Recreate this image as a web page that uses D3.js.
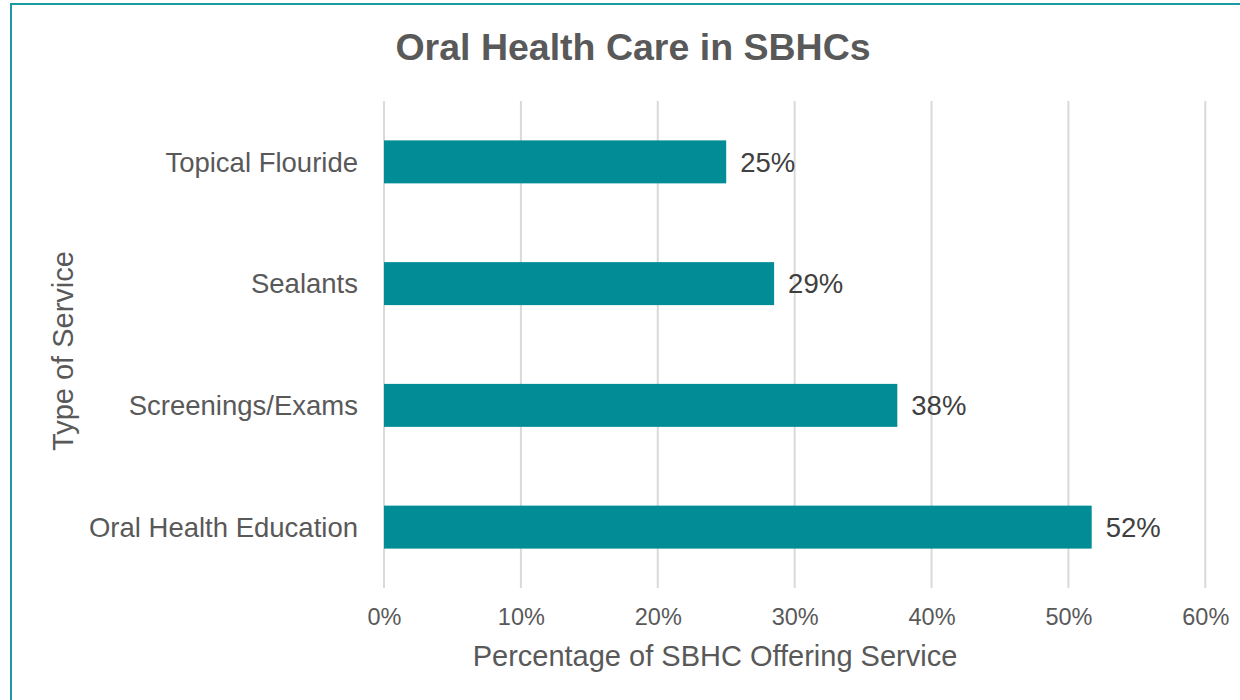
<!DOCTYPE html>
<html>
<head>
<meta charset="utf-8">
<script src="https://cdn.jsdelivr.net/npm/d3@7/dist/d3.min.js"></script>
<style>
  html, body { margin: 0; padding: 0; background: #fff; }
  svg { display: block; font-family: "Liberation Sans", Arial, sans-serif; }
</style>
</head>
<body>
<svg id="chart" width="1240" height="700"></svg>
<script>
const categories = ["Topical Flouride", "Sealants", "Screenings/Exams", "Oral Health Education"];
const values = [25.0, 28.5, 37.5, 51.7];
const valueLabels = ["25%", "29%", "38%", "52%"];
const ticks = [0, 10, 20, 30, 40, 50, 60];

const svg = d3.select("#chart");
const W = 1240, H = 700;

// outer border
svg.append("rect")
  .attr("x", 11).attr("y", 4).attr("width", 1240).attr("height", 710)
  .attr("fill", "#fff").attr("stroke", "#1a9ba1").attr("stroke-width", 2);

const plot = { left: 384, right: 1205.3, top: 101, bottom: 588 };

const x = d3.scaleLinear().domain([0, 60]).range([plot.left, plot.right]);
const y = d3.scaleBand().domain(categories).range([plot.top, plot.bottom]).paddingInner(0.647).paddingOuter(0.3235);

// gridlines
svg.append("g").selectAll("line").data(ticks).join("line")
  .attr("x1", d => x(d)).attr("x2", d => x(d))
  .attr("y1", plot.top).attr("y2", plot.bottom)
  .attr("stroke", "#d9d9d9").attr("stroke-width", 2);

// x axis tick labels
const xAxis = d3.axisBottom(x).tickValues(ticks).tickFormat(d => d + "%").tickSize(0).tickPadding(0);
const gx = svg.append("g").attr("transform", `translate(0, ${plot.bottom})`).call(xAxis);
gx.select(".domain").remove();
gx.selectAll("text")
  .attr("y", 37).attr("dy", 0)
  .attr("font-size", 23.5).attr("fill", "#595959")
  .attr("font-family", "'Liberation Sans', Arial, sans-serif");

// y axis category labels
const yAxis = d3.axisLeft(y).tickSize(0).tickPadding(0);
const gy = svg.append("g").attr("transform", `translate(${358}, 0)`).call(yAxis);
gy.select(".domain").remove();
gy.selectAll("text")
  .attr("x", 0).attr("dy", "0.355em")
  .attr("font-size", 27.5).attr("fill", "#595959")
  .attr("font-family", "'Liberation Sans', Arial, sans-serif");

// bars
svg.append("g").selectAll("rect").data(categories).join("rect")
  .attr("x", x(0))
  .attr("y", d => y(d))
  .attr("width", (d, i) => x(values[i]) - x(0))
  .attr("height", y.bandwidth())
  .attr("fill", "#028c96");

// value labels
svg.append("g").selectAll("text").data(categories).join("text")
  .attr("x", (d, i) => x(values[i]) + 14)
  .attr("y", d => y(d) + y.bandwidth() / 2)
  .attr("dy", "0.355em")
  .attr("font-size", 27.5).attr("fill", "#404040")
  .text((d, i) => valueLabels[i]);

// title
svg.append("text")
  .attr("x", 633).attr("y", 60)
  .attr("text-anchor", "middle")
  .attr("font-size", 37.5).attr("font-weight", "bold").attr("fill", "#595959")
  .text("Oral Health Care in SBHCs");

// x axis title
svg.append("text")
  .attr("x", 715).attr("y", 666)
  .attr("text-anchor", "middle")
  .attr("font-size", 29).attr("fill", "#595959")
  .text("Percentage of SBHC Offering Service");

// y axis title
svg.append("text")
  .attr("transform", `translate(73, 351) rotate(-90)`)
  .attr("text-anchor", "middle")
  .attr("font-size", 29).attr("fill", "#595959")
  .text("Type of Service");
</script>
</body>
</html>
